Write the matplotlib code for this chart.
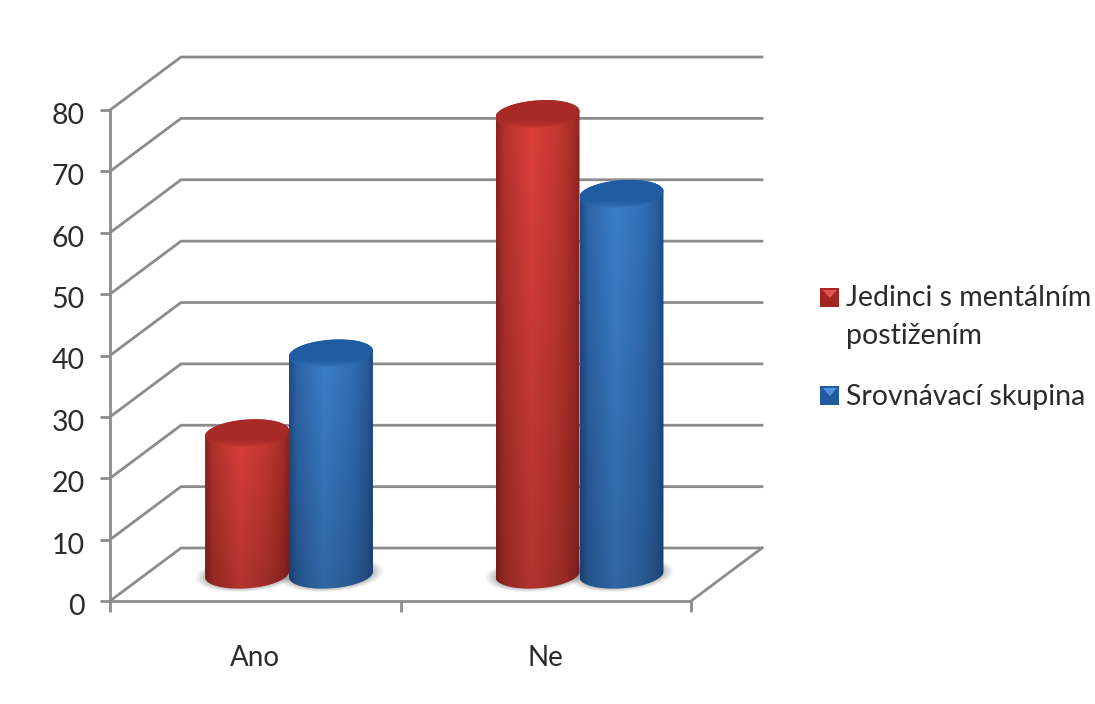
import numpy as np
import matplotlib
matplotlib.use('Agg')
import matplotlib.pyplot as plt
from matplotlib.legend_handler import HandlerBase
from matplotlib.patches import Patch, Polygon, Rectangle
from matplotlib.transforms import ScaledTranslation

plt.rcParams['font.family'] = ['Lato', 'DejaVu Sans']

categories = ['Ano', 'Ne']
series_names = ['Jedinci s mentálním\npostižením', 'Srovnávací skupina']
impaired = [23, 75]
comparison = [36, 62]
y_ticks = [0, 10, 20, 30, 40, 50, 60, 70, 80]

GRID = '#8c8c8c'
TEXT = '#2b2b2b'
# edge, body highlight, lid dark, lid rim
RED = ['#8e2420', '#de403a', '#a82a26', '#d4423c']
BLUE = ['#204d8a', '#3c80cc', '#205ca2', '#4082ca']

# depth of the floor, in category units and in value units
DX = 71 / 290.5
DY = 53 / 6.14
BAR_W = 0.1445     # half width of a cylinder
LID = 2.25         # half height of the elliptical lid
TILT = 3.2         # slope of the ellipses
SHIFT = -0.006     # cylinders sit slightly left of the floor centre


def rgb(c):
    return np.array(matplotlib.colors.to_rgb(c))


def ellipse_pts(xc, yc, t):
    return xc + BAR_W * np.cos(t), yc + LID * np.sin(t) + TILT * BAR_W * np.cos(t)


def shadow(ax, xc, yc, z):
    xs = np.linspace(xc - BAR_W * 1.6, xc + BAR_W * 1.6, 120)
    ys = np.linspace(yc - LID * 2.4, yc + LID * 2.4, 80)
    X, Y = np.meshgrid(xs, ys)
    u = (X - xc) / (BAR_W * 1.12)
    v = (Y - yc - TILT * (X - xc)) / (LID * 1.12)
    a = np.clip(1.3 - (u**2 + v**2), 0, 1) ** 1.3 * 0.8
    img = np.zeros(X.shape + (4,))
    img[..., :3] = 0.22
    img[..., 3] = a
    ax.imshow(img, extent=(xs[0], xs[-1], ys[0], ys[-1]), origin='lower',
              aspect='auto', zorder=z, interpolation='bilinear', clip_on=False)


def clipped(im, patch):
    # images stop at the axes box by default, lids may rise above it
    im.set_clip_box(im.get_figure().bbox)
    im.set_clip_path(patch)


def cylinder(ax, xc, base, value, cols, z):
    top = base + value
    t = np.linspace(0, 2 * np.pi, 200)
    # outline of the body: lower half of the base plus the lid on top
    bx, by = ellipse_pts(xc, base, np.linspace(np.pi, 2 * np.pi, 100))
    tx, ty = ellipse_pts(xc, top, np.linspace(0, np.pi, 100))
    body = Polygon(np.column_stack([np.r_[bx, tx], np.r_[by, ty]]),
                   closed=True, transform=ax.transData, fc='none', ec='none', clip_on=False)
    ax.add_patch(body)

    # horizontal shading, a bit darker towards the floor
    u = np.linspace(0, 1, 160)
    mix = np.interp(u, [0, 0.1, 0.42, 0.75, 0.93, 1], [0, 0.5, 1, 0.68, 0.3, 0])
    row = rgb(cols[0]) + (rgb(cols[1]) - rgb(cols[0])) * mix[:, None]
    fade = np.linspace(0.8, 1.0, 100)[:, None, None]
    img = row[None, :, :] * fade
    y0, y1 = base - LID - TILT * BAR_W, top + LID + TILT * BAR_W
    im = ax.imshow(img, extent=(xc - BAR_W, xc + BAR_W, y0, y1), origin='lower',
                   aspect='auto', zorder=z, interpolation='bilinear')
    clipped(im, body)

    # lid with a lighter lower rim
    lx, ly = ellipse_pts(xc, top, t)
    lid = Polygon(np.column_stack([lx, ly]), closed=True, transform=ax.transData,
                  fc='none', ec='none', clip_on=False)
    ax.add_patch(lid)
    v = np.linspace(0, 1, 60)
    m = np.interp(v, [0, 0.16, 0.3, 1], [1, 0.35, 0, 0])
    col = rgb(cols[2]) + (rgb(cols[3]) - rgb(cols[2])) * m[:, None]
    im2 = ax.imshow(col[:, None, :], extent=(xc - BAR_W, xc + BAR_W,
                    top - LID - TILT * BAR_W, top + LID + TILT * BAR_W),
                    origin='lower', aspect='auto', zorder=z + 0.1, interpolation='bilinear')
    clipped(im2, lid)


class BevelHandler(HandlerBase):
    # small square swatch with a lighter wedge at its top edge
    def __init__(self, dark, light, lift=0, **kw):
        super().__init__(**kw)
        self.dark, self.light, self.lift = dark, light, lift

    def create_artists(self, legend, orig, x0, y0, w, h, fontsize, trans):
        s = 19 * 72 / 100
        x = x0 + w - s
        y = y0 + h / 2 - s / 2 + self.lift
        sq = Rectangle((x, y), s, s, fc=self.dark, ec='none', transform=trans)
        tri = Polygon([(x + 0.12 * s, y + 0.88 * s), (x + 0.88 * s, y + 0.88 * s),
                       (x + 0.5 * s, y + 0.45 * s)], fc=self.light, ec='none', transform=trans)
        return [sq, tri]


fig = plt.figure(figsize=(10.95, 7.04), dpi=100)
ax = fig.add_axes([110 / 1095, (704 - 601) / 704, 581 / 1095, 491 / 704])
ax.patch.set_visible(False)

# back wall and side wall grid
for v in y_ticks:
    ax.plot([0, DX, 2 + DX], [v, v + DY, v + DY], color=GRID, lw=2, zorder=1,
            clip_on=False, solid_joinstyle='miter')
ax.plot([2, 2 + DX], [0, DY], color=GRID, lw=2, zorder=1, clip_on=False)

x_pos = np.arange(len(categories)) + 0.5
for i, xp in enumerate(x_pos):
    xc = xp + DX / 2 + SHIFT
    shadow(ax, xc - BAR_W, DY / 2, 2)
    shadow(ax, xc + BAR_W, DY / 2, 2)
    cylinder(ax, xc - BAR_W, DY / 2, impaired[i], RED, 3)
    cylinder(ax, xc + BAR_W, DY / 2, comparison[i], BLUE, 4)

ax.set_xlim(0, 2)
ax.set_ylim(0, 80)
for s in ['top', 'right']:
    ax.spines[s].set_visible(False)
for s in ['left', 'bottom']:
    ax.spines[s].set_color(GRID)
    ax.spines[s].set_linewidth(2)
    ax.spines[s].set_zorder(6)

ax.set_yticks(y_ticks)
ax.tick_params(axis='y', length=7, width=2, color=GRID, labelsize=20.5,
               labelcolor=TEXT, pad=11)
ax.set_xticks([0, 1, 2])
ax.set_xticklabels([])
ax.set_xticks(x_pos, categories, minor=True)
ax.tick_params(axis='x', which='major', length=8, width=2, color=GRID)
ax.tick_params(axis='x', which='minor', length=0, labelsize=20, labelcolor=TEXT, pad=32)

# numbers hang a little below their ticks
nudge = ScaledTranslation(0, -2.5 / 72, fig.dpi_scale_trans)
for lab in ax.get_yticklabels():
    lab.set_transform(lab.get_transform() + nudge)

handles = [Patch(label=series_names[0]), Patch(label=series_names[1])]
leg = fig.legend(handles=handles, loc='upper left', bbox_to_anchor=(820 / 1095, 1 - 285 / 704),
                 frameon=False, fontsize=20.5, labelcolor=TEXT, handlelength=0.68,
                 handletextpad=0.22, labelspacing=1.25, borderpad=0, borderaxespad=0,
                 handler_map={handles[0]: BevelHandler('#a32522', '#e0524c', lift=14.5),
                              handles[1]: BevelHandler('#215a9e', '#4c92dc')})
leg.get_texts()[0].set_linespacing(1.55)

fig.savefig('out.png', dpi=100)
